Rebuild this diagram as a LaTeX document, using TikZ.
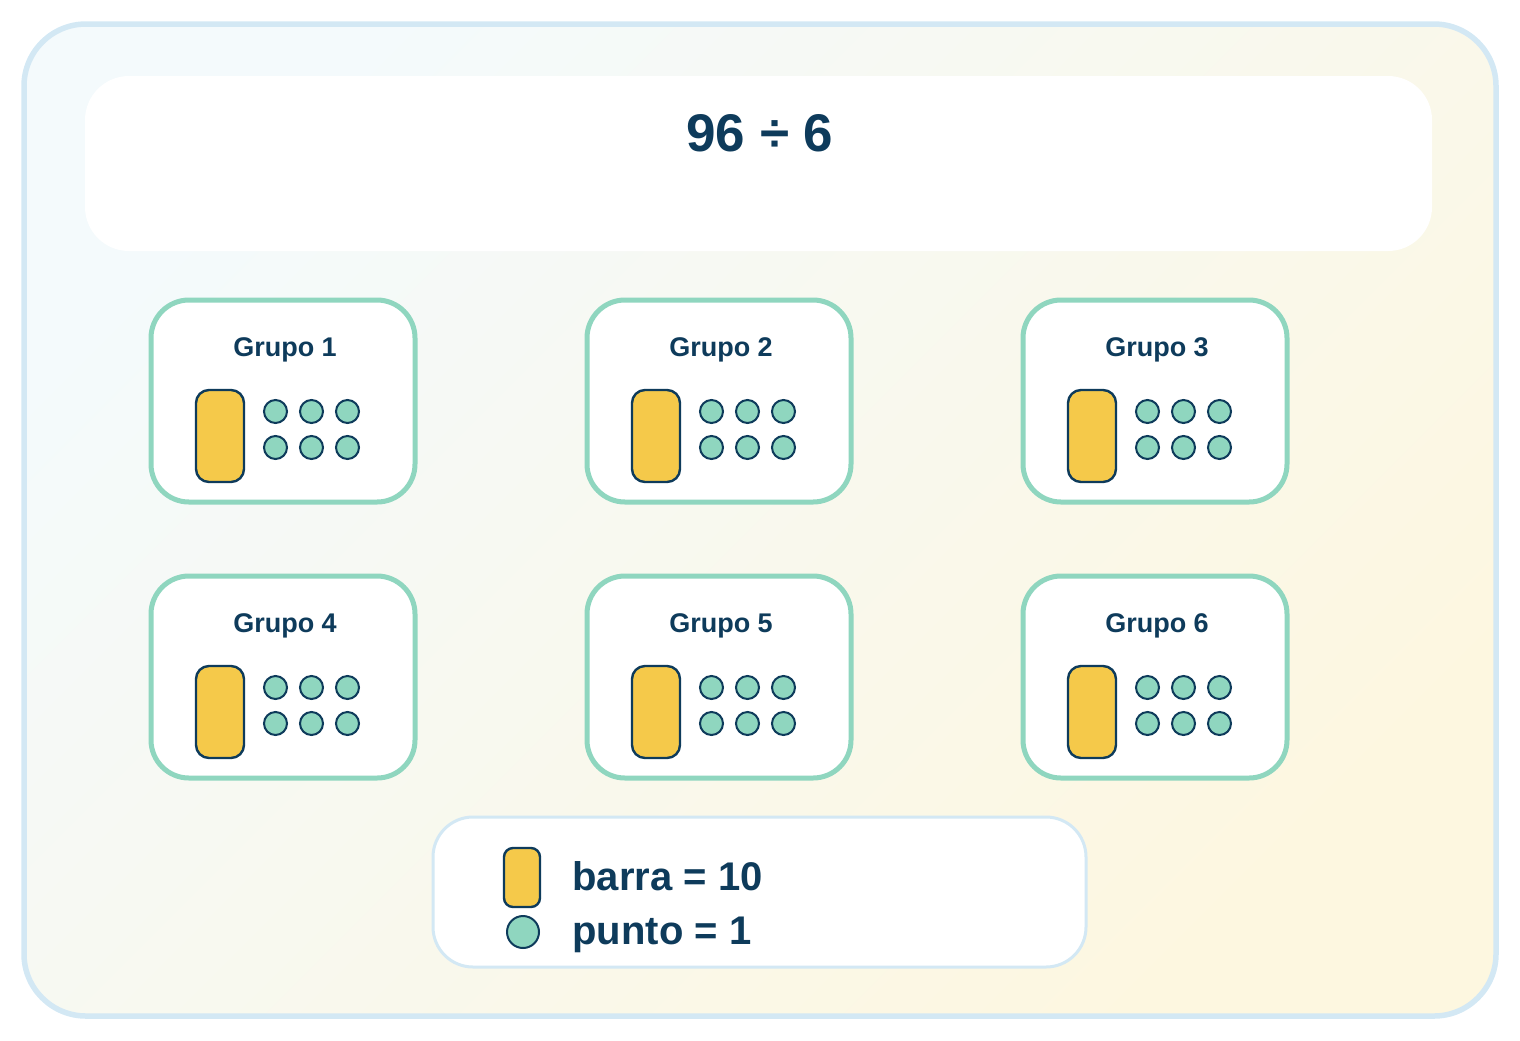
\documentclass[tikz,border=0pt]{standalone}
\usepackage{fontspec}
\setmainfont{Liberation Sans}
\usepackage{tikz}
\definecolor{inkblue}{HTML}{0E3B5B}
\definecolor{mintgreen}{HTML}{8FD6BF}
\definecolor{baryellow}{HTML}{F5C94A}
\definecolor{frameblue}{HTML}{D3E8F4}
\definecolor{bgcool}{HTML}{F4FAFC}
\definecolor{bgwarm}{HTML}{FDF7E0}

\begin{document}
\begin{tikzpicture}[x=0.5pt,y=-0.5pt,
        grupobox/.style={draw=mintgreen, line width=2.5pt, fill=white, rounded corners=19pt},
        tenbar/.style={draw=inkblue, line width=1.2pt, fill=baryellow},
        onedot/.style={draw=inkblue, line width=1pt, fill=mintgreen},
        grupolabel/.style={text=inkblue, font=\bfseries\fontsize{13.5}{16}\selectfont, anchor=base, inner sep=0pt},
        legendtext/.style={text=inkblue, font=\bfseries\fontsize{20}{24}\selectfont, anchor=base west, inner sep=0pt}]
        \useasboundingbox (0,0) rectangle (1520,1040);
        % background card
        \shade[rounded corners=31pt, top color=bgcool, bottom color=bgwarm, shading angle=45] (24,24) rectangle (1496,1016);
        \draw[frameblue, line width=2.75pt, rounded corners=31pt] (24,24) rectangle (1496,1016);
        % title panel
        \fill[white, rounded corners=22pt] (85,76) rectangle (1432,251);
        \node[text=inkblue, font=\bfseries\fontsize{26.5}{32}\selectfont, anchor=base, inner sep=0pt] (titulo) at (760,151) {96 ÷ 6};
        % six groups
        \foreach \n/\gx/\gy in {1/151/300, 2/587/300, 3/1023/300, 4/151/576, 5/587/576, 6/1023/576}{
            \draw[grupobox] (\gx,\gy) rectangle (\gx+264,\gy+202);
            \node[grupolabel] (grupo\n) at (\gx+134,\gy+56) {Grupo \n};
            \draw[tenbar, rounded corners=6.5pt] (\gx+45,\gy+90) rectangle (\gx+93,\gy+182);
            \foreach \i in {0,1,2}{
                \foreach \j in {0,1}{
                    \draw[onedot] (\gx+124.5+36*\i,\gy+111.5+36*\j) circle[radius=5.75pt];
                }
            }
        }
        % legend
        \draw[frameblue, line width=1.5pt, fill=white, rounded corners=20pt] (433,817) rectangle (1086,967);
        \draw[tenbar, rounded corners=4.5pt] (504,848) rectangle (540,907);
        \draw[onedot] (523,932) circle[radius=8pt];
        \node[legendtext] (barra) at (572,890) {barra = 10};
        \node[legendtext] (punto) at (572,944) {punto = 1};
    \end{tikzpicture}
\end{document}
